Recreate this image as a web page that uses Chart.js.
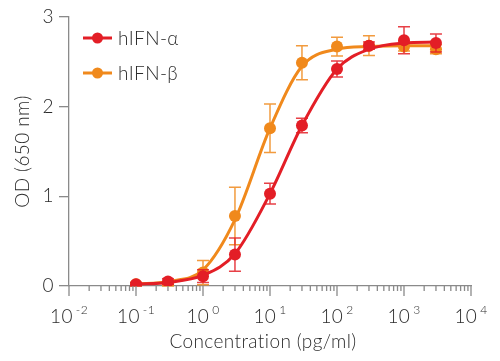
<!DOCTYPE html>
<html>
<head>
  <meta charset="utf-8">
  <script src="https://cdn.jsdelivr.net/npm/chart.js@4.4.1/dist/chart.umd.min.js"></script>
  <style>
    html, body { margin: 0; padding: 0; background: #fff; }
    #wrap { width: 500px; height: 361px; }
  </style>
</head>
<body>
  <div id="wrap"><canvas id="chart" width="500" height="361"></canvas></div>

  <script>
    // concentrations (pg/ml)
    var conc = [0.1, 0.3, 1, 3, 10, 30, 100, 300, 1000, 3000];

    var alphaOD  = [0.02, 0.05, 0.11, 0.35, 1.03, 1.79, 2.42, 2.68, 2.74, 2.71];
    var alphaErr = [0.02, 0.03, 0.07, 0.185, 0.115, 0.08, 0.09, 0.04, 0.15, 0.10];
    var betaOD   = [0.02, 0.02, 0.15, 0.78, 1.76, 2.49, 2.67, 2.68, 2.67, 2.64];
    var betaErr  = [0.02, 0.02, 0.135, 0.32, 0.27, 0.19, 0.105, 0.11, 0.05, 0.05];

    // fitted curves
    var alphaFit = [0.02, 0.04, 0.12, 0.36, 1.03, 1.79, 2.42, 2.64, 2.71, 2.72];
    var betaFit  = [0.02, 0.05, 0.18, 0.74, 1.76, 2.45, 2.64, 2.67, 2.68, 2.68];

    var xExponents = [-2, -1, 0, 1, 2, 3, 4];
    var yTicks = [0, 1, 2, 3];

    var RED = '#e31e26';
    var ORANGE = '#f0891c';
    var AXIS = '#8a8a8a';
    var TEXT = '#2b2b2b';
    var FONT = 'Lato, "Open Sans", sans-serif';
    var W = '300 ';

    function pts(ys) {
      var out = [];
      for (var i = 0; i < conc.length; i++) out.push({ x: conc[i], y: ys[i] });
      return out;
    }

    var errorBars = {
      id: 'errorBars',
      beforeDraw: function(chart) {
        chart.ctx.letterSpacing = '0.4px';
      },
      beforeDatasetDraw: function(chart, args) {
        var ds = chart.data.datasets[args.index];
        if (!ds.err) return;
        var xs = chart.scales.x, ys = chart.scales.y;
        var ctx = chart.ctx;
        ctx.save();
        ctx.strokeStyle = ds.borderColor;
        ctx.globalAlpha = 0.85;
        ctx.lineWidth = 1.5;
        for (var i = 0; i < conc.length; i++) {
          var px = xs.getPixelForValue(conc[i]);
          var top = ys.getPixelForValue(ds.data[i].y + ds.err[i]);
          var bot = ys.getPixelForValue(ds.data[i].y - ds.err[i]);
          ctx.beginPath();
          ctx.moveTo(px, top); ctx.lineTo(px, bot);
          ctx.moveTo(px - 6, top); ctx.lineTo(px + 6, top);
          ctx.moveTo(px - 6, bot); ctx.lineTo(px + 6, bot);
          ctx.stroke();
        }
        ctx.restore();
      }
    };

    var decor = {
      id: 'decor',
      afterDraw: function(chart) {
        var ctx = chart.ctx;
        var xs = chart.scales.x;
        var area = chart.chartArea;
        var y0 = area.bottom;
        ctx.save();
        ctx.letterSpacing = '0.4px';

        // x ticks, major and minor
        ctx.strokeStyle = AXIS;
        ctx.lineWidth = 1.3;
        ctx.beginPath();
        for (var e = xExponents[0]; e <= xExponents[xExponents.length - 1]; e++) {
          var p = xs.getPixelForValue(Math.pow(10, e));
          ctx.moveTo(p, y0); ctx.lineTo(p, y0 + 10);
          if (e < xExponents[xExponents.length - 1]) {
            for (var m = 2; m <= 9; m++) {
              var q = xs.getPixelForValue(m * Math.pow(10, e));
              ctx.moveTo(q, y0); ctx.lineTo(q, y0 + 5);
            }
          }
        }
        ctx.stroke();

        // x tick labels 10^n
        ctx.fillStyle = TEXT;
        ctx.textBaseline = 'alphabetic';
        ctx.textAlign = 'left';
        xExponents.forEach(function(n) {
          var p = xs.getPixelForValue(Math.pow(10, n));
          ctx.font = W + '19px ' + FONT;
          var wb = ctx.measureText('10').width;
          ctx.font = W + '12px ' + FONT;
          var es = String(n);
          var we = ctx.measureText(es).width;
          var start = p - (wb + 3 + we) / 2;
          ctx.font = W + '19px ' + FONT;
          ctx.fillText('10', start, 323);
          ctx.font = W + '12px ' + FONT;
          ctx.fillText(es, start + wb + 3, 314);
        });

        // x axis title
        ctx.font = W + '19px ' + FONT;
        ctx.textAlign = 'center';
        ctx.fillText('Concentration (pg/ml)', (area.left + area.right) / 2 - 7, 348);

        // legend
        var items = [['hIFN-\u03b1', RED, 38], ['hIFN-\u03b2', ORANGE, 73]];
        ctx.textAlign = 'left';
        items.forEach(function(it) {
          ctx.strokeStyle = it[1];
          ctx.lineWidth = 3;
          ctx.beginPath();
          ctx.moveTo(83, it[2]); ctx.lineTo(112, it[2]);
          ctx.stroke();
          ctx.fillStyle = it[1];
          ctx.beginPath();
          ctx.arc(97.5, it[2], 5.5, 0, Math.PI * 2);
          ctx.fill();
          ctx.fillStyle = TEXT;
          ctx.font = W + '19px ' + FONT;
          ctx.fillText(it[0], 118, it[2] + 7);
        });
        ctx.restore();
      }
    };

    new Chart(document.getElementById('chart'), {
      type: 'scatter',
      data: {
        datasets: [
          { label: 'hIFN-α', data: pts(alphaOD), err: alphaErr, showLine: false,
            pointRadius: 6, pointHoverRadius: 6, backgroundColor: RED, borderColor: RED, borderWidth: 0 },
          { label: 'hIFN-α fit', data: pts(alphaFit), showLine: true, pointRadius: 0,
            borderColor: RED, borderWidth: 3, cubicInterpolationMode: 'monotone', fill: false },
          { label: 'hIFN-β', data: pts(betaOD), err: betaErr, showLine: false,
            pointRadius: 6, pointHoverRadius: 6, backgroundColor: ORANGE, borderColor: ORANGE, borderWidth: 0 },
          { label: 'hIFN-β fit', data: pts(betaFit), showLine: true, pointRadius: 0,
            borderColor: ORANGE, borderWidth: 3, cubicInterpolationMode: 'monotone', fill: false }
        ]
      },
      options: {
        responsive: false,
        animation: false,
        devicePixelRatio: 1,
        layout: { padding: { top: 17, right: 29, left: 0, bottom: 0 } },
        plugins: { legend: { display: false }, tooltip: { enabled: false } },
        scales: {
          x: {
            type: 'logarithmic',
            min: 0.01, max: 10000,
            ticks: { display: false },
            grid: { display: false },
            border: { display: true, color: AXIS, width: 1.3 },
            afterFit: function(s) { s.height = 75; }
          },
          y: {
            min: 0, max: 3,
            afterBuildTicks: function(s) { s.ticks = yTicks.map(function(v) { return { value: v }; }); },
            ticks: { color: TEXT, font: { family: FONT, size: 19, weight: 300 }, padding: 5 },
            grid: { drawOnChartArea: false, drawTicks: true, tickLength: 10, color: AXIS, lineWidth: 1.3 },
            border: { display: true, color: AXIS, width: 1.3 },
            title: { display: true, text: 'OD (650 nm)', color: TEXT, font: { family: FONT, size: 19, weight: 300 }, padding: { top: 11, bottom: 0 } },
            afterFit: function(s) { s.width = 69; }
          }
        }
      },
      plugins: [errorBars, decor]
    });
  </script>
</body>
</html>
